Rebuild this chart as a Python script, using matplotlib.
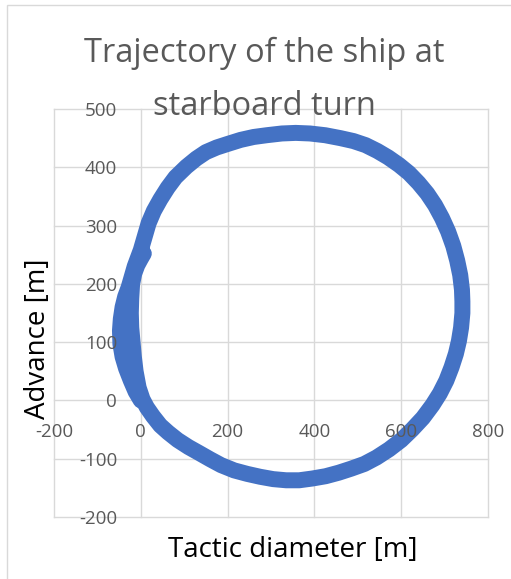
import matplotlib
matplotlib.use("Agg")
import matplotlib.pyplot as plt
from matplotlib.patches import Rectangle

# ---- data ----
# first lap: starts at the origin, initial kick to port, then the turning circle
lap1_x = [0, -12, -23, -34, -42, -47, -48, -46, -42, -36, -28, -21, -14, -7, 0, 9, 18,
          30, 45, 62, 80, 105, 128, 150, 175, 200, 230, 260, 290, 325, 357, 390, 425,
          460, 490, 518, 545, 570, 595, 618, 640, 660, 678, 694, 708, 720, 729, 736,
          740, 741, 741, 738, 733, 726, 716, 704, 689, 672, 650, 625, 600, 572, 543,
          515, 485, 456, 426, 395, 365, 335, 305, 275, 245, 215, 185, 160, 134, 110,
          85, 63, 45, 28, 14, 4]
lap1_y = [0, 15, 34, 55, 75, 97, 120, 140, 160, 178, 194, 212, 230, 244, 258, 281, 304,
          325, 345, 365, 383, 401, 415, 426, 434, 440, 447, 452, 455, 458, 459, 458, 455,
          450, 445, 438, 428, 417, 404, 390, 373, 355, 335, 313, 290, 265, 240, 215,
          190, 170, 150, 125, 102, 80, 57, 34, 12, -8, -30, -50, -68, -84, -98,
          -109, -117, -124, -130, -134, -137, -137, -135, -131, -126, -120, -111, -101, -90, -80,
          -68, -55, -43, -27, -12, 2]
# second lap: passes inside the first one on the left and ends near (7, 252)
lap2_x = [-5, -12, -16, -19, -22, -23, -22, -20, -15, -8, 0, 7]
lap2_y = [22, 50, 75, 100, 125, 150, 175, 200, 218, 232, 243, 252]
traj_x = lap1_x + lap2_x
traj_y = lap1_y + lap2_y

x_ticks = [-200, 0, 200, 400, 600, 800]
y_ticks = [-200, -100, 0, 100, 200, 300, 400, 500]
title_lines = ["Trajectory of the ship at", "starboard turn"]
x_label = "Tactic diameter [m]"
y_label = "Advance [m]"

W, H = 511, 579
FONT = "Open Sans"
GRID = "#d9d9d9"
TXT = "#595959"

fig = plt.figure(figsize=(W / 100, H / 100), dpi=100)
ax = fig.add_axes([54 / W, 1 - 517 / H, (488 - 54) / W, (517 - 109) / H])

ax.plot(traj_x, traj_y, color="#4472C4", lw=11.5, solid_capstyle="round",
        solid_joinstyle="round", zorder=2)

ax.set_xlim(-200, 800)
ax.set_ylim(-200, 500)

for v in x_ticks:
    ax.axvline(v, color=GRID, lw=1, zorder=0.5, clip_on=False)
for v in y_ticks:
    ax.axhline(v, color=GRID, lw=1, zorder=0.5, clip_on=False)

for s in ["top", "right", "left", "bottom"]:
    ax.spines[s].set_visible(False)
ax.spines["left"].set_position(("data", 0))
ax.spines["bottom"].set_position(("data", 0))

ax.set_xticks(x_ticks)
ax.set_xticklabels([str(v) for v in x_ticks])
ax.set_yticks(y_ticks)
ax.set_yticklabels([str(v) for v in y_ticks])
ax.tick_params(axis="x", length=0, pad=16, labelsize=13.5, labelcolor=TXT)
ax.tick_params(axis="y", length=0, pad=17, labelsize=13.5, labelcolor=TXT)
for lab in ax.get_xticklabels() + ax.get_yticklabels():
    lab.set_fontfamily(FONT)
ax.xaxis.set_zorder(3)
ax.yaxis.set_zorder(3)
ax.patch.set_visible(False)

fig.text(264 / W, 1 - 62 / H, title_lines[0], ha="center", va="baseline",
         fontsize=23.5, color=TXT, family=FONT)
fig.text(264 / W, 1 - 115 / H, title_lines[1], ha="center", va="baseline",
         fontsize=23.5, color=TXT, family=FONT)
fig.text(293 / W, 1 - 557 / H, x_label, ha="center", va="baseline",
         fontsize=20, color="black", family=FONT)
fig.text(38 / W, 1 - 339 / H, y_label, ha="center", va="center", rotation=90,
         fontsize=20, color="black", family=FONT)

fig.patches.append(Rectangle((7 / W, -0.05), 1.2, (1 - 5 / H) + 0.05,
                             transform=fig.transFigure, fill=False,
                             edgecolor=GRID, lw=1))

fig.savefig("out.png", dpi=100)
